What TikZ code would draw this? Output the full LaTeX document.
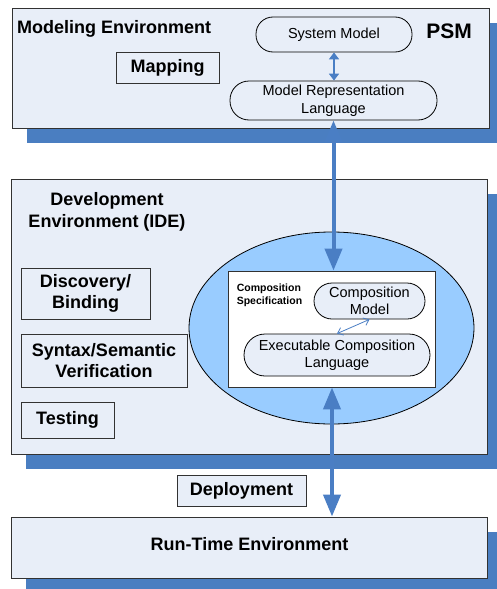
\documentclass[tikz,border=0pt]{standalone}
\usepackage{fontspec}
\setmainfont{Liberation Sans}
\usetikzlibrary{arrows.meta,shadows,shapes.geometric}

\definecolor{envfill}{RGB}{232,238,248}
\definecolor{shadowblue}{RGB}{74,126,193}
\definecolor{arrowblue}{RGB}{74,126,196}
\definecolor{ellfill}{RGB}{153,204,255}
\definecolor{edge}{RGB}{50,50,50}

\tikzset{
  envbox/.style={draw=edge, line width=0.9pt, fill=envfill, inner sep=0pt,
    drop shadow={shadow xshift=15pt, shadow yshift=-15pt, fill=shadowblue, opacity=1}},
  taskbox/.style={draw=edge, line width=0.9pt, fill=envfill, inner sep=0pt, align=center,
    font=\fontsize{18}{21.7}\selectfont\bfseries},
  pill/.style={draw=black, line width=0.8pt, fill=envfill, inner sep=0pt, align=center,
    font=\fontsize{14.5}{17.5}\selectfont},
  bigtext/.style={font=\fontsize{18}{21.7}\selectfont\bfseries, inner sep=0pt, align=center},
  bigarrow/.style={draw=arrowblue, line width=4pt,
    {Triangle[length=22pt,width=17pt]}-{Triangle[length=22pt,width=17pt]}},
  smallarrow/.style={draw=arrowblue, line width=2pt,
    {Triangle[length=7pt,width=10pt]}-{Triangle[length=7pt,width=10pt]}},
  thinarrow/.style={draw=arrowblue, line width=0.8pt,
    {Straight Barb[length=5pt,width=8pt]}-{Straight Barb[length=5pt,width=8pt]}}
}

\begin{document}
\begin{tikzpicture}[x=1pt,y=-1pt]
\useasboundingbox (0,0) rectangle (497,589);
\clip (0,0) rectangle (497,589);

% Modeling environment
\node[envbox, minimum width=477pt, minimum height=120pt] (me) at (250.5,68) {};
\node[bigtext, anchor=base west] (metitle) at (17,33) {Modeling Environment};
\node[font=\fontsize{21}{25}\selectfont\bfseries, inner sep=0pt, anchor=base] (psm) at (449,38) {PSM};
\node[taskbox, minimum width=103pt, minimum height=31pt] (map) at (167.5,67.5) {Mapping};
\node[pill, rounded corners=17pt, minimum width=156pt, minimum height=35pt] (sm) at (334,34.5) {System Model};
\node[pill, rounded corners=19pt, minimum width=207pt, minimum height=39pt] (mrl) at (333.5,100.5) {Model Representation\\Language};

% Development environment
\node[envbox, minimum width=476pt, minimum height=275pt] (ide) at (249,316.5) {};
\node[bigtext] (idetitle) at (107,212) {Development\\Environment (IDE)};
\node[taskbox, minimum width=129pt, minimum height=51pt] (disc) at (85.5,293.5) {Discovery/\\Binding};
\node[taskbox, minimum width=166pt, minimum height=53pt] (syn) at (104,360.5) {Syntax/Semantic\\Verification};
\node[taskbox, minimum width=93pt, minimum height=36pt] (test) at (67.5,420) {Testing};

\node[draw=black, line width=0.8pt, fill=ellfill, ellipse, inner sep=0pt,
      minimum width=285pt, minimum height=192pt] (ell) at (331.5,328) {};
\node[draw=edge, line width=0.8pt, fill=white, inner sep=0pt,
      minimum width=207pt, minimum height=116pt] (comp) at (331.5,329) {};
\node[font=\fontsize{10.5}{13}\selectfont\bfseries, inner sep=0pt, align=left] (spec) at (269.5,295) {Composition\\Specification};
\node[pill, rounded corners=18pt, minimum width=111pt, minimum height=36pt] (cm) at (369.5,301) {Composition\\Model};
\node[pill, rounded corners=21pt, minimum width=186pt, minimum height=42pt] (ecl) at (337,355) {Executable Composition\\Language};

% Run-time environment
\node[envbox, minimum width=476pt, minimum height=61pt] (rt) at (249,547.5) {};
\node[bigtext] (rttitle) at (249.5,544) {Run-Time Environment};
\node[taskbox, minimum width=129pt, minimum height=31pt] (dep) at (241.5,490.5) {Deployment};

% Connectors
\draw[smallarrow] (sm.south) -- (sm.south |- mrl.north);
\draw[bigarrow] (mrl.south) -- (mrl.south |- comp.north);
\draw[bigarrow] ([xshift=0.5pt]comp.south) -- ([xshift=0.5pt]comp.south |- rt.north);
\draw[thinarrow] (ecl.north) -- (cm.south);
\end{tikzpicture}
\end{document}
